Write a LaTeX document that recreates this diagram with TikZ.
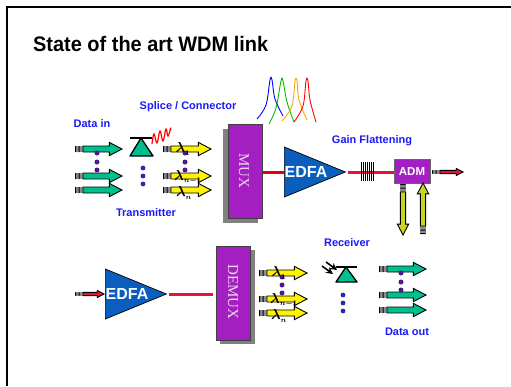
\documentclass[tikz,border=0pt]{standalone}
\usepackage{fontspec}
\setmainfont{Liberation Sans}
\newfontfamily\serifface{Liberation Serif}
\usetikzlibrary{arrows.meta,shapes.geometric}
\definecolor{labelblue}{HTML}{1A1AF5}
\definecolor{boxpurple}{HTML}{A31FC2}
\definecolor{ampblue}{HTML}{0A5EBE}
\definecolor{fibrered}{HTML}{E8103C}
\definecolor{seagreen}{HTML}{00BF8F}
\definecolor{dotpurple}{HTML}{4A1A90}
\definecolor{dotblue}{HTML}{2A2AA8}
\tikzset{
    bluetext/.style={text=labelblue, font=\fontsize{11}{12}\bfseries\selectfont, inner sep=0pt},
    boxmux/.style={draw=black!75, line width=1pt, fill=boxpurple, inner sep=0pt, minimum width=34pt, minimum height=94pt},
    muxtext/.style={text=violet!15, rotate=-90, inner sep=0pt, font=\fontsize{15}{16}\serifface\selectfont},
    amp/.style={isosceles triangle, isosceles triangle stretches, shape border rotate=0, draw=black, line width=0.7pt,
        fill=ampblue, inner sep=0pt, minimum width=50pt, minimum height=61pt, anchor=lower side},
    amptext/.style={text=white, inner sep=0pt, font=\fontsize{16}{18}\bfseries\selectfont},
    fibre/.style={fibrered, line width=3pt},
    diode/.style={draw=black, line width=1.3pt, fill=seagreen, line join=round},
    spectrum/.style={line width=0.9pt, smooth, tension=0.6},
    lambdatext/.style={inner sep=0pt, font=\fontsize{14}{15}\boldmath\selectfont},
    pics/sigarrow/.style n args={3}{code={
        \fill[black!45] (0,-#3) rectangle (8,#3);
        \fill[black] (0,-#3) rectangle (1,#3) (3.5,-#3) rectangle (4.5,#3);
        \draw[black, line width=0.9pt, fill=#2, line join=miter] (8,-#3) -- (#1-4.2*#3,-#3) -- (#1-4.2*#3,-2.2*#3) -- (#1,0)
            -- (#1-4.2*#3,2.2*#3) -- (#1-4.2*#3,#3) -- (8,#3) -- cycle;
    }}
}
\begin{document}
\begin{tikzpicture}[x=1pt,y=-1pt]
        \useasboundingbox (0,0) rectangle (511,386);
        \draw[line width=2pt] (7,386) -- (7,7) -- (511,7);
        \node[anchor=west, inner sep=0pt, xscale=0.95, font=\fontsize{21}{23}\bfseries\selectfont] (title) at (33,44) {State of the art WDM link};

        % top row
        \node[bluetext] (datain) at (92,124) {Data in};
        \node[bluetext] (splice) at (188,107) {Splice / Connector};
        \node[bluetext] (transmitter) at (146,213) {Transmitter};
        \node[bluetext] (gain) at (372,141) {Gain Flattening};
        \node[bluetext] (receiver) at (347,243) {Receiver};
        \node[bluetext] (dataout) at (407,332) {Data out};

        \foreach \y in {149,176,190} {
            \pic at (75,\y) {sigarrow={47}{seagreen}{3}};
            \pic at (163,\y) {sigarrow={48}{yellow}{3}};
        }
        \foreach \y in {153,162,170} {
            \fill[dotpurple] (97,\y) circle (2.5);
            \fill[dotpurple] (185,\y) circle (2.5);
        }
        \foreach \y in {168,176,184} \fill[dotblue] (143,\y) circle (2.4);
        \node[lambdatext] (la1) at (183,149) {$\lambda_{\scriptscriptstyle 1}$};
        \node[lambdatext] (la2) at (188,177) {$\lambda_{\scriptscriptstyle n-1}$};
        \node[lambdatext] (la3) at (184,193) {$\lambda_{\scriptscriptstyle n}$};

        % transmitter diode and its light
        \draw[diode] (141,138) -- (153,156) -- (130,156) -- cycle;
        \draw[line width=1.3pt] (130,138) -- (152,138);
        \draw[red, line width=1.2pt, -{Stealth[length=3pt]}] plot[smooth, tension=0.7] coordinates {
            (152,144) (154,134) (157,143) (160,131) (163,141) (166,129) (168,136) (171,127)
        };

        % spectrum
        \draw[blue, spectrum] plot coordinates {(257,119) (266,105) (270,80) (272,80) (275,99) (283,116)};
        \draw[green!75!black, spectrum] plot coordinates {(269,124) (276,108) (281,81) (283,81) (287,102) (294,122)};
        \draw[orange!70!yellow, spectrum] plot coordinates {(282,121) (292,106) (295,81) (297,81) (299,100) (307,120)};
        \draw[red, spectrum] plot coordinates {(294,122) (303,106) (306,81) (308,81) (310,100) (316,122)};

        % mux, amplifier, adm
        \fill[black!50] (223,129) rectangle (258,223);
        \node[boxmux] (mux) at (245,171) {};
        \node[muxtext] (muxlabel) at (244,171) {MUX};
        \draw[fibre, red!90!black] (mux.east |- 0,172) -- (284,172);
        \node[amp] (edfatop) at (284,172) {};
        \node[amptext] (edfatoplabel) at (306,172) {EDFA};
        \node[boxmux, draw=black!60, minimum width=36pt, minimum height=24pt] (adm) at (412,171) {};
        \node[text=white, inner sep=0pt, font=\fontsize{11.5}{12}\bfseries\selectfont] (admlabel) at (412,172) {ADM};
        \draw[fibre] (edfatop.apex) ++(2,0) -- (adm.west |- edfatop.apex);
        \foreach \x in {361,363,365,367,369,371,373} \draw[line width=0.6pt] (\x,162) -- (\x,181);
        \pic at (432,172) {sigarrow={31}{fibrered}{1.6}};
        \pic[rotate=-90] at (403,184) {sigarrow={51}{yellow!85!green!90!black}{2.6}};
        \pic[rotate=90] at (423,234) {sigarrow={51}{yellow!85!green!90!black}{2.6}};

        % bottom row
        \pic at (75,294) {sigarrow={29}{fibrered}{1.6}};
        \node[amp] (edfabot) at (105,294) {};
        \node[amptext] (edfabotlabel) at (127,294) {EDFA};
        \fill[black!50] (220,250) rectangle (255,344);
        \node[boxmux] (demux) at (233,293) {};
        \node[muxtext] (demuxlabel) at (233,292) {DEMUX};
        \draw[fibre] (edfabot.apex) ++(2,0) -- ([xshift=-3pt]demux.west |- edfabot.apex);

        \foreach \y in {273,299,313} \pic at (259,\y) {sigarrow={48}{yellow}{3}};
        \foreach \y in {277,285,293} \fill[dotpurple] (282,\y) circle (2.5);
        \node[lambdatext] (lb1) at (279,273) {$\lambda_{\scriptscriptstyle 1}$};
        \node[lambdatext] (lb2) at (284,300) {$\lambda_{\scriptscriptstyle n-1}$};
        \node[lambdatext] (lb3) at (279,316) {$\lambda_{\scriptscriptstyle n}$};

        % receiver diode
        \draw[diode] (346,267) -- (357,282) -- (336,282) -- cycle;
        \draw[line width=1.3pt] (336,267) -- (357,267);
        \coordinate (photoa) at (322,266);
        \coordinate (photob) at (326,262);
        \draw[line width=1.6pt, -{Stealth[length=7pt,width=7pt]}] (photoa) -- ++(11,8);
        \draw[line width=1.6pt, -{Stealth[length=7pt,width=7pt]}] (photob) -- ++(11,8);
        \foreach \y in {295,303,311} \fill[dotblue] (343,\y) circle (2.4);

        \foreach \y in {269,295,310} \pic at (379,\y) {sigarrow={47}{seagreen}{3}};
        \foreach \y in {273,282,290} \fill[dotpurple] (401,\y) circle (2.5);

    \end{tikzpicture}
\end{document}
